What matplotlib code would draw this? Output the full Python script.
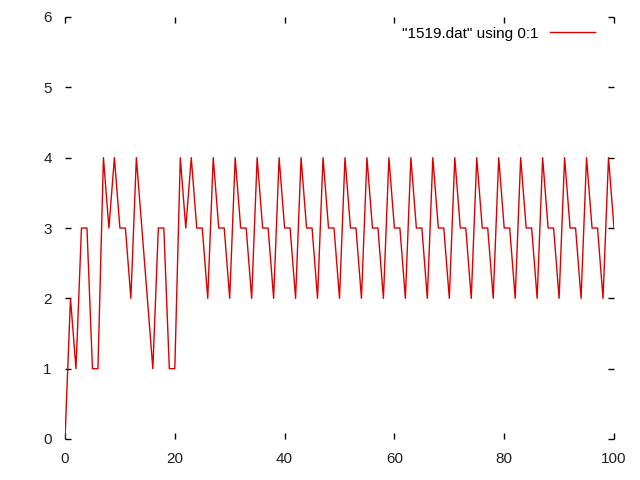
import matplotlib
matplotlib.use("Agg")
import matplotlib.pyplot as plt

# values of column 1 in 1519.dat, plotted against row index (using 0:1)
values = [0, 2, 1, 3, 3, 1, 1, 4, 3, 4,
          3, 3, 2, 4, 3, 2, 1, 3, 3, 1,
          1, 4, 3, 4, 3, 3, 2, 4, 3, 3,
          2, 4, 3, 3, 2, 4, 3, 3, 2, 4,
          3, 3, 2, 4, 3, 3, 2, 4, 3, 3,
          2, 4, 3, 3, 2, 4, 3, 3, 2, 4,
          3, 3, 2, 4, 3, 3, 2, 4, 3, 3,
          2, 4, 3, 3, 2, 4, 3, 3, 2, 4,
          3, 3, 2, 4, 3, 3, 2, 4, 3, 3,
          2, 4, 3, 3, 2, 4, 3, 3, 2, 4,
          3]
index = list(range(len(values)))
x_ticks = [0, 20, 40, 60, 80, 100]
y_ticks = [0, 1, 2, 3, 4, 5, 6]
legend_label = '"1519.dat" using 0:1'

plt.rcParams["font.family"] = ["Liberation Sans", "DejaVu Sans"]

fig = plt.figure(figsize=(6.4, 4.8), dpi=100)
ax = fig.add_axes([65 / 640, 41 / 480, 549 / 640, 422 / 480])

ax.plot(index, values, color="#dd0000", linewidth=1.0, label=legend_label)

ax.set_xlim(0, 100)
ax.set_ylim(0, 6)
ax.set_xticks(x_ticks)
ax.set_yticks(y_ticks)

# gnuplot style: no border, just tick marks on all four sides
for s in ax.spines.values():
    s.set_visible(False)

ax.tick_params(direction="in", length=4.5, width=1, color="black",
               top=True, right=True, labelsize=11, pad=9.5,
               labelcolor="#222222")

ax.legend(loc="upper right", frameon=False, fontsize=11,
          handlelength=2.9, handletextpad=0.75,
          bbox_to_anchor=(0.99, 1.01), markerfirst=False)

fig.savefig("out.png", dpi=100)
plt.close(fig)
